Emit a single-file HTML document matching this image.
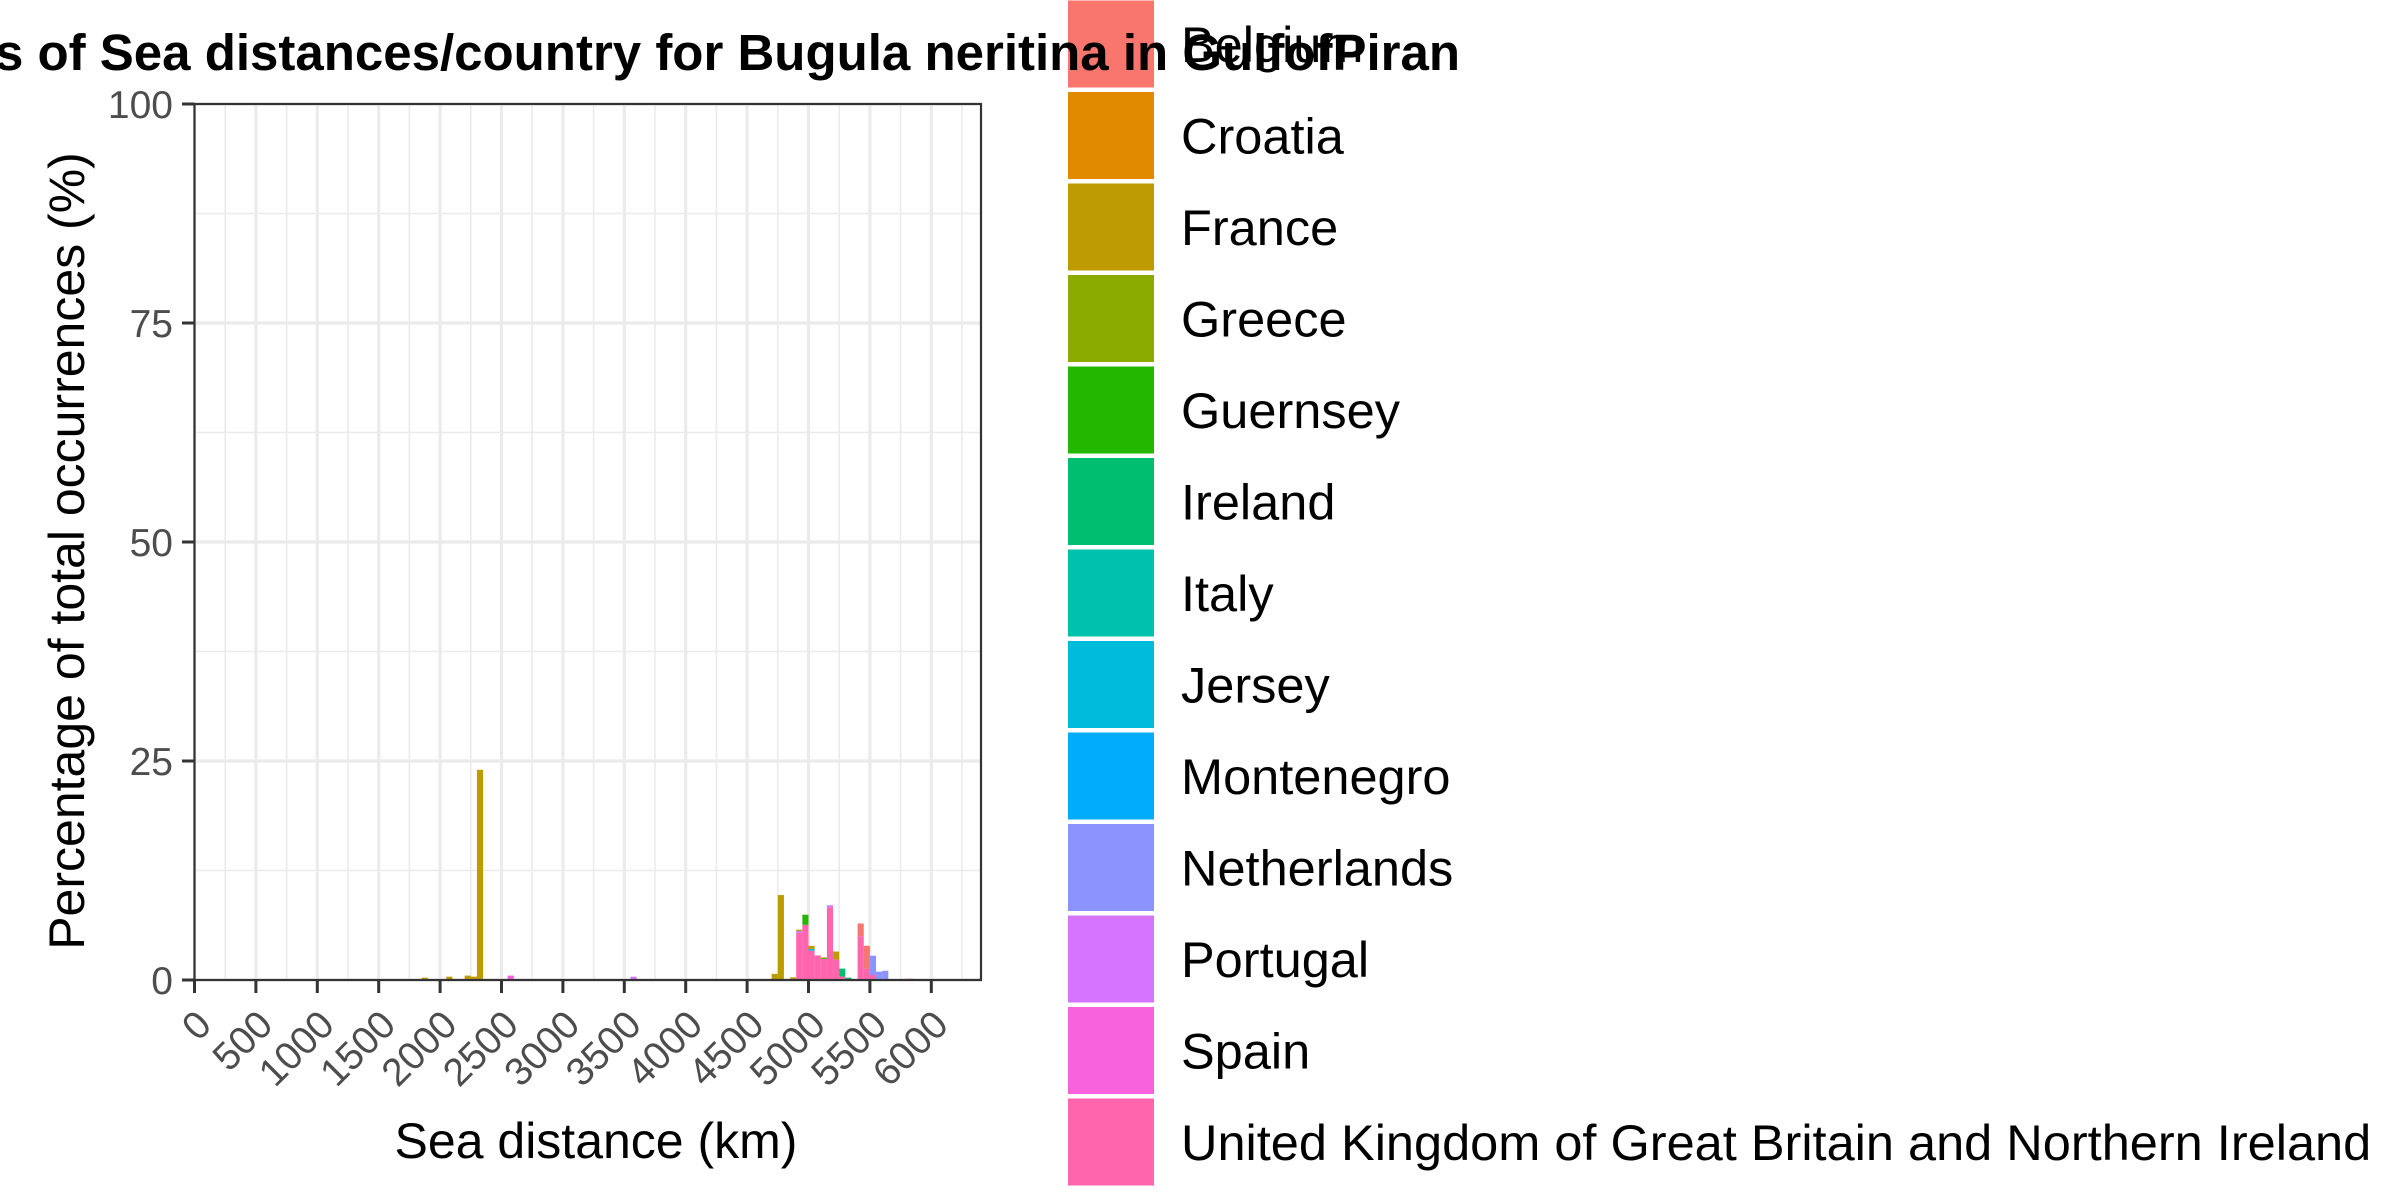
<!DOCTYPE html>
<html><head><meta charset="utf-8"><style>
html,body{margin:0;padding:0;background:#fff;}
svg{display:block;font-family:"Liberation Sans",Arial,sans-serif;}
</style></head><body>
<svg id="chart" width="2400" height="1200" viewBox="0 0 2400 1200" xmlns="http://www.w3.org/2000/svg">
<rect x="0" y="0" width="2400" height="1200" fill="#fff"/>
<g id="grid"></g>
<g id="bars"></g>
<rect x="194.5" y="104" width="786.5" height="876" fill="none" stroke="#333" stroke-width="2.2"/>
<g id="axes"></g>
<g id="legend"></g>
<text x="1460" y="70" text-anchor="end" font-size="51" font-weight="bold" fill="#000">Percentages of Sea distances/country for Bugula neritina in GulfofPiran</text>
<text x="596" y="1158" text-anchor="middle" font-size="50" fill="#000">Sea distance (km)</text>
<text transform="translate(84,551) rotate(-90)" text-anchor="middle" font-size="50" fill="#000">Percentage of total occurrences (%)</text>
</svg>
<script>
const countries = ["Belgium","Croatia","France","Greece","Guernsey","Ireland","Italy","Jersey","Montenegro","Netherlands","Portugal","Spain","United Kingdom of Great Britain and Northern Ireland"];
const colors = ["#F8766D","#E18A00","#BE9C00","#8CAB00","#24B700","#00BE70","#00C1AB","#00BBDA","#00ACFC","#8B93FF","#D575FE","#F962DD","#FF65AC"];
const binStarts = [1850,2050,2200,2250,2300,2550,3550,3650,4000,4700,4750,4850,4900,4950,5000,5050,5100,5150,5200,5250,5300,5400,5450,5500,5550,5600,5800];
const binWidth = 50;
const belgium     = [0,0,0,0,0,0,0,0,0,0,0,0,0,0,0,0,0,0,0,0,0,1.45,2.6,0,0,0,0];
const croatia     = [0,0,0,0,0,0,0,0,0,0,0,0,0,0,0,0,0,0,0,0,0,0,0,0,0,0,0];
const france      = [0.27,0.38,0.5,0.38,24,0,0,0,0,0.7,9.7,0.3,0.15,0,0.35,0,0.08,0,0.9,0,0,0,0,0,0,0,0];
const greece      = [0,0,0,0,0,0,0,0,0,0,0,0,0,0,0,0,0,0,0,0,0,0,0,0,0,0,0];
const guernsey    = [0,0,0,0,0,0,0,0,0,0,0,0,0,1.15,0,0,0.1,0,0,0,0,0,0,0,0,0,0];
const ireland     = [0,0,0,0,0,0,0,0,0,0,0,0,0,0,0,0,0,0,0,0.9,0.27,0,0,0,0,0,0];
const italy       = [0,0,0,0,0,0,0,0,0,0,0,0,0,0,0,0,0,0,0,0,0,0,0,0,0,0,0];
const jersey      = [0,0,0,0,0,0,0,0,0,0,0,0,0,0,0.2,0,0,0,0,0,0,0,0,0,0,0,0];
const montenegro  = [0,0,0,0,0,0,0,0,0,0,0,0,0,0,0,0,0,0,0,0,0,0,0,0,0,0,0];
const netherlands = [0,0,0,0,0,0,0,0,0,0,0,0,0,0,0,0,0,0,0,0,0,0,0,2.2,0.85,1.05,0];
const portugal    = [0,0,0,0,0,0,0.38,0.12,0,0,0,0,0.2,0,0,0,0,0.23,0,0,0,0,0,0,0,0,0];
const spain       = [0,0,0,0,0,0.5,0,0,0.12,0,0,0,0,0,0,0,0,0,0,0,0,0,0,0,0,0,0.15];
const uk          = [0,0,0,0,0,0,0,0,0,0,0,0,5.4,6.3,3.35,2.8,2.4,8.3,2.35,0.4,0,5.0,1.3,0.57,0.1,0,0];
const series = [belgium,croatia,france,greece,guernsey,ireland,italy,jersey,montenegro,netherlands,portugal,spain,uk];
const xTicks = [0,500,1000,1500,2000,2500,3000,3500,4000,4500,5000,5500,6000];
const yTicks = [0,25,50,75,100];

const NS = "http://www.w3.org/2000/svg";
const X0 = 194.5, XS = 0.1228, Y0 = 980, YS = 8.76;
function xs(v){ return X0 + v*XS; }
function ys(v){ return Y0 - v*YS; }
function mk(tag, attrs, parent){ const e=document.createElementNS(NS,tag); for(const k in attrs) e.setAttribute(k,attrs[k]); parent.appendChild(e); return e; }

const grid = document.getElementById('grid');
for(let v=250; v<6400; v+=500){
  const l = mk('line',{x1:xs(v),x2:xs(v),y1:104,y2:980,stroke:'#EBEBEB','stroke-width':1.6},grid);
  
  
}
for(let v=12.5; v<100; v+=25){
  const l = mk('line',{x1:194.5,x2:981,y1:ys(v),y2:ys(v),stroke:'#EBEBEB','stroke-width':1.6},grid);
  
  
}
xTicks.forEach(v=>{
  const l = mk('line',{x1:xs(v),x2:xs(v),y1:104,y2:980,stroke:'#EBEBEB','stroke-width':3.2},grid);
  
  
});
yTicks.forEach(v=>{
  const l = mk('line',{x1:194.5,x2:981,y1:ys(v),y2:ys(v),stroke:'#EBEBEB','stroke-width':3.2},grid);
  
  
});

const bars = document.getElementById('bars');
binStarts.forEach((b,i)=>{
  let cum = 0;
  for(let c=series.length-1; c>=0; c--){
    const v = series[c][i];
    if(!v) continue;
    const r = mk('rect',{x:xs(b),y:ys(cum+v),width:binWidth*XS,height:v*YS,fill:colors[c]},bars);
    
    
    cum += v;
  }
});

const axes = document.getElementById('axes');
xTicks.forEach(v=>{
  const t = mk('line',{x1:xs(v),x2:xs(v),y1:980,y2:993,stroke:'#333','stroke-width':3},axes);
  
  
  const ax = xs(v)+19, ay = 1027;
  const lb = mk('text',{x:ax,y:ay,'text-anchor':'end','font-size':39,fill:'#4D4D4D',transform:`rotate(-45 ${ax} ${ay})`},axes);
  lb.textContent = v;
  
  
});
yTicks.forEach(v=>{
  const t = mk('line',{x1:182,x2:194.5,y1:ys(v),y2:ys(v),stroke:'#333','stroke-width':3},axes);
  
  
  const lb = mk('text',{x:173,y:ys(v)+14,'text-anchor':'end','font-size':39,fill:'#4D4D4D'},axes);
  lb.textContent = v;
  
  
});

const legend = document.getElementById('legend');
countries.forEach((c,i)=>{
  const top = 0.5 + i*91.5;
  const k = mk('rect',{x:1068,y:top,width:86,height:87,fill:colors[i]},legend);
  
  
  const t = mk('text',{x:1181,y:top+43.5+18,'font-size':50.5,fill:'#000'},legend);
  t.textContent = c;
  
  
});
</script>
</body></html>
